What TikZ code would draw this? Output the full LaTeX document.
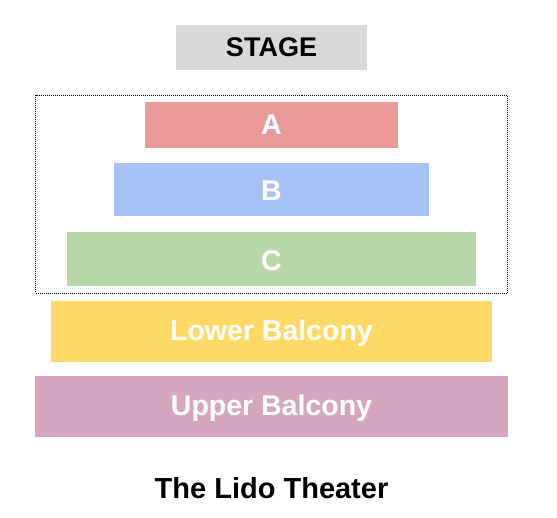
\documentclass[tikz,border=0pt]{standalone}
\usepackage{fontspec}
\setmainfont{Liberation Sans}
\definecolor{stagegray}{HTML}{D9D9D9}
\definecolor{secA}{HTML}{EA9999}
\definecolor{secB}{HTML}{A4C2F4}
\definecolor{secC}{HTML}{B6D7A8}
\definecolor{secL}{HTML}{FFD966}
\definecolor{secU}{HTML}{D5A6BD}
\begin{document}
\begin{tikzpicture}[x=1pt,y=-1pt,
  lbl/.style={anchor=base,inner sep=0pt,font=\fontsize{28.5}{28.5}\selectfont\bfseries,text=white},
  blk/.style={anchor=base,inner sep=0pt,font=\fontsize{27}{27}\selectfont\bfseries,text=black}]
\useasboundingbox (0,0) rectangle (557,517);
\fill[stagegray] (176,25) rectangle (367,70);
\node[blk] (stage) at (271.5,56) {STAGE};
\draw[densely dotted,line width=1pt] (35.5,95) rectangle (507,293);
\fill[secA] (145,102) rectangle (398,148);
\node[lbl] (a) at (271.5,134.5) {A};
\fill[secB] (114,163) rectangle (429,216);
\node[lbl] (b) at (271.5,200.5) {B};
\fill[secC] (67,232) rectangle (476,286);
\node[lbl] (c) at (271.5,270) {C};
\fill[secL] (51,301) rectangle (492,362);
\node[lbl] (lower) at (271.5,340) {Lower Balcony};
\fill[secU] (35,376) rectangle (508,437);
\node[lbl] (upper) at (271.5,415) {Upper Balcony};
\node[blk,font=\fontsize{29}{29}\selectfont\bfseries] (title) at (271.5,498.5) {The Lido Theater};
\end{tikzpicture}
\end{document}
